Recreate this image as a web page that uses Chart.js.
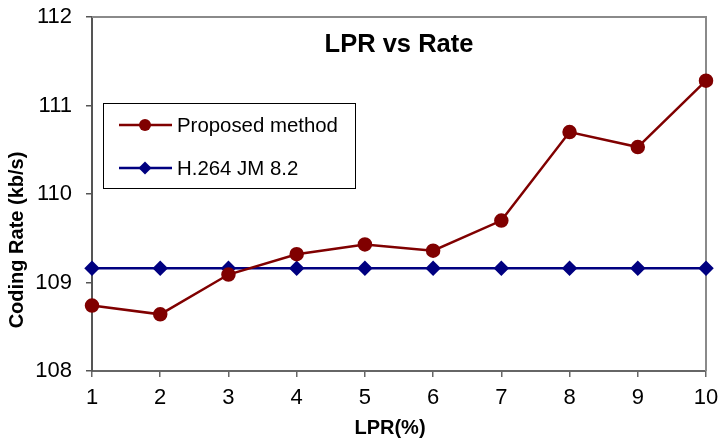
<!DOCTYPE html>
<html>
<head>
<meta charset="utf-8">
<script src="https://cdn.jsdelivr.net/npm/chart.js@4/dist/chart.umd.min.js"></script>
<style>
  html, body { margin: 0; padding: 0; background: #fff; }
  #wrap { width: 721px; height: 438px; }
</style>
</head>
<body>
<div id="wrap"><canvas id="lprRate"></canvas></div>
<script>
const lprValues = [1, 2, 3, 4, 5, 6, 7, 8, 9, 10];
const proposedRate = [108.74, 108.64, 109.09, 109.32, 109.43, 109.36, 109.70, 110.70, 110.53, 111.28];
const jmRate = [109.16, 109.16, 109.16, 109.16, 109.16, 109.16, 109.16, 109.16, 109.16, 109.16];
const seriesNames = ['Proposed method', 'H.264 JM 8.2'];

const FONT = "'Liberation Sans', Arial, sans-serif";

// caixa do gráfico (topo e direita em cinza)
const plotBox = {
    id: 'plotBox',
    beforeDatasetsDraw(chart) {
        const { ctx, chartArea: a } = chart;
        ctx.save();
        ctx.strokeStyle = '#8a8a8a';
        ctx.lineWidth = 2;
        ctx.beginPath();
        ctx.moveTo(a.left, a.top);
        ctx.lineTo(a.right, a.top);
        ctx.lineTo(a.right, a.bottom);
        ctx.stroke();
        ctx.restore();
    }
};

// título, legenda e títulos dos eixos desenhados à mão
const insideText = {
    id: 'insideText',
    afterDraw(chart) {
        const { ctx } = chart;
        ctx.save();
        ctx.fillStyle = '#000';
        ctx.font = 'bold 25.5px ' + FONT;
        ctx.textAlign = 'center';
        ctx.textBaseline = 'middle';
        ctx.fillText('LPR vs Rate', 399, 45);

        ctx.font = 'bold 20px ' + FONT;
        ctx.fillText('LPR(%)', 390, 428);
        ctx.save();
        ctx.translate(17, 240);
        ctx.rotate(-Math.PI / 2);
        ctx.fillText('Coding Rate (kb/s)', 0, 0);
        ctx.restore();

        ctx.fillStyle = '#fff';
        ctx.fillRect(103, 103, 252, 85);
        ctx.strokeStyle = '#000';
        ctx.lineWidth = 1;
        ctx.strokeRect(103.5, 103.5, 252, 85);

        const rows = [125, 168];
        chart.data.datasets.forEach((ds, i) => {
            const y = rows[i];
            ctx.strokeStyle = ds.borderColor;
            ctx.lineWidth = ds.borderWidth;
            ctx.beginPath();
            ctx.moveTo(119, y);
            ctx.lineTo(172, y);
            ctx.stroke();
            ctx.fillStyle = ds.pointBackgroundColor;
            ctx.beginPath();
            if (ds.pointStyle === 'circle') {
                ctx.arc(145, y, 6, 0, Math.PI * 2);
            } else {
                ctx.moveTo(145, y - 6.5);
                ctx.lineTo(151.5, y);
                ctx.lineTo(145, y + 6.5);
                ctx.lineTo(138.5, y);
                ctx.closePath();
            }
            ctx.fill();
            ctx.fillStyle = '#000';
            ctx.font = '20.4px ' + FONT;
            ctx.textAlign = 'left';
            ctx.textBaseline = 'middle';
            ctx.fillText(ds.label, 177, y + 1);
        });
        ctx.restore();
    }
};

new Chart(document.getElementById('lprRate'), {
    type: 'line',
    data: {
        datasets: [
            {
                label: seriesNames[0],
                data: lprValues.map((x, i) => ({ x: x, y: proposedRate[i] })),
                borderColor: '#800000',
                backgroundColor: '#800000',
                pointBackgroundColor: '#800000',
                pointBorderColor: '#800000',
                pointStyle: 'circle',
                pointRadius: 6,
                borderWidth: 2.5,
                tension: 0,
                clip: false
            },
            {
                label: seriesNames[1],
                data: lprValues.map((x, i) => ({ x: x, y: jmRate[i] })),
                borderColor: '#000080',
                backgroundColor: '#000080',
                pointBackgroundColor: '#000080',
                pointBorderColor: '#000080',
                pointStyle: 'rectRot',
                pointRadius: 6,
                borderWidth: 2.5,
                tension: 0,
                clip: false
            }
        ]
    },
    options: {
        responsive: true,
        maintainAspectRatio: false,
        animation: false,
        layout: { padding: { left: 0, right: 15, top: 17, bottom: 0 } },
        plugins: {
            legend: { display: false },
            title: { display: false },
            tooltip: { enabled: false }
        },
        scales: {
            x: {
                type: 'linear',
                min: 1,
                max: 10,
                afterFit: s => {
                    s.height = 67;
                    s.paddingLeft = 0;
                    s.paddingRight = 0;
                },
                ticks: {
                    stepSize: 1,
                    color: '#000',
                    padding: 8,
                    font: { family: FONT, size: 22 }
                },
                grid: { drawOnChartArea: false, drawTicks: true, tickLength: 6, color: '#666', lineWidth: 1.5 },
                border: { color: '#666', width: 2 },
                title: { display: false }
            },
            y: {
                min: 108,
                max: 112,
                afterFit: s => {
                    s.width = 92;
                    s.paddingTop = 0;
                    s.paddingBottom = 0;
                },
                ticks: {
                    stepSize: 1,
                    color: '#000',
                    padding: 14,
                    font: { family: FONT, size: 22 }
                },
                grid: { drawOnChartArea: false, drawTicks: true, tickLength: 6, color: '#555', lineWidth: 1.5 },
                border: { color: '#555', width: 2 },
                title: { display: false }
            }
        }
    },
    plugins: [plotBox, insideText]
});
</script>
</body>
</html>
